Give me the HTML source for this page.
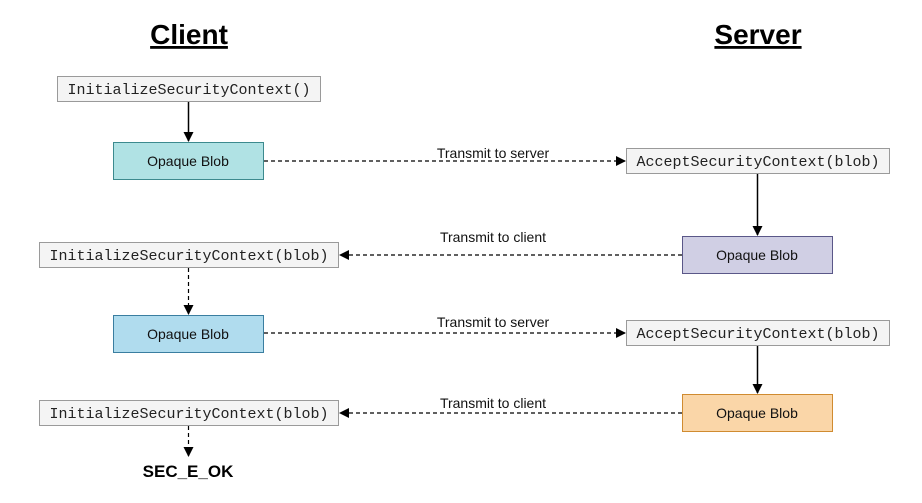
<!DOCTYPE html>
<html><head><meta charset="utf-8"><style>
body{margin:0;background:#fff;}
svg{display:block;}
.m{font-family:"Liberation Mono",monospace;font-size:15px;fill:#222;}
.s{font-family:"Liberation Sans",sans-serif;font-size:14px;fill:#111;}
.t{font-family:"Liberation Sans",sans-serif;font-size:28px;font-weight:bold;fill:#000;text-decoration:underline;}
</style></head><body>
<svg width="922" height="503" viewBox="0 0 922 503" xmlns="http://www.w3.org/2000/svg">
<defs>
<marker id="a" markerWidth="10" markerHeight="10" refX="9" refY="5" orient="auto" markerUnits="userSpaceOnUse">
<path d="M0,0 L10,5 L0,10 z" fill="#000"/></marker>
</defs>
<text x="189" y="44" text-anchor="middle" class="t">Client</text>
<text x="758" y="44" text-anchor="middle" class="t">Server</text>

<g stroke="#9a9a9a" fill="#f4f4f4">
<rect x="57.5" y="76.5" width="263" height="25"/>
<rect x="626.5" y="148.5" width="263" height="25"/>
<rect x="39.5" y="242.5" width="299" height="25"/>
<rect x="626.5" y="320.5" width="263" height="25"/>
<rect x="39.5" y="400.5" width="299" height="25"/>
</g>
<text x="189" y="94" text-anchor="middle" class="m">InitializeSecurityContext()</text>
<text x="758" y="166" text-anchor="middle" class="m">AcceptSecurityContext(blob)</text>
<text x="189" y="260" text-anchor="middle" class="m">InitializeSecurityContext(blob)</text>
<text x="758" y="338" text-anchor="middle" class="m">AcceptSecurityContext(blob)</text>
<text x="189" y="418" text-anchor="middle" class="m">InitializeSecurityContext(blob)</text>

<rect x="113.5" y="142.5" width="150" height="37" fill="#b0e2e4" stroke="#3c8a8e"/>
<rect x="682.5" y="236.5" width="150" height="37" fill="#d0cfe4" stroke="#5a5788"/>
<rect x="113.5" y="315.5" width="150" height="37" fill="#b0dcee" stroke="#3a7ea0"/>
<rect x="682.5" y="394.5" width="150" height="37" fill="#fad6a8" stroke="#d08b30"/>
<text x="188" y="166" text-anchor="middle" class="s">Opaque Blob</text>
<text x="757" y="260" text-anchor="middle" class="s">Opaque Blob</text>
<text x="188" y="339" text-anchor="middle" class="s">Opaque Blob</text>
<text x="757" y="418" text-anchor="middle" class="s">Opaque Blob</text>

<g stroke="#000" stroke-width="1.5" fill="none">
<line x1="188.5" y1="102" x2="188.5" y2="141" marker-end="url(#a)"/>
<line x1="757.5" y1="174" x2="757.5" y2="235" marker-end="url(#a)"/>
<line x1="757.5" y1="346" x2="757.5" y2="393" marker-end="url(#a)"/>
</g>
<g stroke="#000" stroke-width="1.2" fill="none" stroke-dasharray="4,3">
<line x1="264" y1="161" x2="625" y2="161" marker-end="url(#a)"/>
<line x1="682" y1="255" x2="340" y2="255" marker-end="url(#a)"/>
<line x1="188.5" y1="268" x2="188.5" y2="314" marker-end="url(#a)"/>
<line x1="264" y1="333" x2="625" y2="333" marker-end="url(#a)"/>
<line x1="682" y1="413" x2="340" y2="413" marker-end="url(#a)"/>
<line x1="188.5" y1="426" x2="188.5" y2="456" marker-end="url(#a)"/>
</g>
<text x="493" y="158" text-anchor="middle" class="s">Transmit to server</text>
<text x="493" y="242" text-anchor="middle" class="s">Transmit to client</text>
<text x="493" y="327" text-anchor="middle" class="s">Transmit to server</text>
<text x="493" y="408" text-anchor="middle" class="s">Transmit to client</text>
<text x="188" y="477" text-anchor="middle" font-family="Liberation Sans Narrow, Liberation Sans, sans-serif" font-size="17" font-weight="bold">SEC_E_OK</text>
</svg>
</body></html>
